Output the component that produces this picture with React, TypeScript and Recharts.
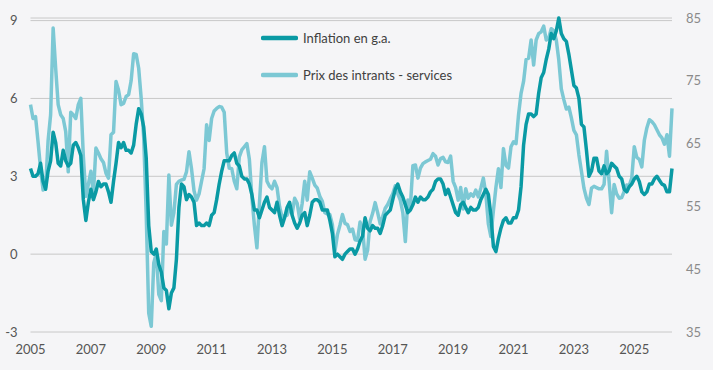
import React from 'react';
import { LineChart, Line, XAxis, YAxis, CartesianGrid, Legend } from 'recharts';

// monthly series, first point = Dec 2004
// inflation en glissement annuel (%), left axis
const inflation = [
  3.3,
  3.0, 3.0, 3.1, 3.5, 2.8, 2.5, 3.2, 3.6, 4.7, 4.3, 3.5, 3.4, // 2005
  4.0, 3.6, 3.4, 3.5, 4.2, 4.3, 4.1, 3.8, 2.1, 1.3, 2.0, 2.5, // 2006
  2.1, 2.4, 2.8, 2.6, 2.7, 2.7, 2.4, 2.0, 2.8, 3.5, 4.3, 4.1, // 2007
  4.3, 4.0, 4.0, 3.9, 4.2, 5.0, 5.6, 5.4, 4.9, 3.7, 1.1, 0.1, // 2008
  0.0, 0.2, -0.4, -0.7, -1.3, -1.4, -2.1, -1.5, -1.3, -0.2, 1.8, 2.7, // 2009
  2.6, 2.1, 2.3, 2.2, 2.0, 1.1, 1.2, 1.1, 1.1, 1.2, 1.1, 1.5, // 2010
  1.6, 2.1, 2.7, 3.2, 3.6, 3.6, 3.6, 3.8, 3.9, 3.5, 3.4, 3.0, // 2011
  2.9, 2.9, 2.7, 2.3, 1.7, 1.7, 1.4, 1.7, 2.0, 2.2, 1.8, 1.7, // 2012
  1.6, 2.0, 1.5, 1.1, 1.4, 1.8, 2.0, 1.5, 1.2, 1.0, 1.2, 1.5, // 2013
  1.6, 1.1, 1.5, 2.0, 2.1, 2.1, 2.0, 1.7, 1.7, 1.7, 1.3, 0.8, // 2014
  -0.1, 0.0, -0.1, -0.2, 0.0, 0.1, 0.2, 0.2, 0.0, 0.2, 0.5, 0.7, // 2015
  1.4, 1.0, 0.9, 1.1, 1.0, 1.0, 0.8, 1.1, 1.5, 1.6, 1.7, 2.1, // 2016
  2.5, 2.7, 2.4, 2.2, 1.9, 1.6, 1.7, 1.9, 2.2, 2.0, 2.2, 2.1, // 2017
  2.1, 2.2, 2.4, 2.5, 2.8, 2.9, 2.9, 2.7, 2.3, 2.5, 2.2, 1.9, // 2018
  1.6, 1.5, 1.9, 2.0, 1.8, 1.6, 1.8, 1.7, 1.7, 1.8, 2.1, 2.3, // 2019
  2.5, 2.3, 1.5, 0.3, 0.1, 0.6, 1.0, 1.3, 1.4, 1.2, 1.2, 1.4, // 2020
  1.4, 1.7, 2.6, 4.2, 5.0, 5.4, 5.4, 5.3, 5.4, 6.2, 6.8, 7.0, // 2021
  7.5, 7.9, 8.5, 8.3, 8.6, 9.1, 8.5, 8.3, 8.2, 7.7, 7.1, 6.5, // 2022
  6.4, 6.0, 5.0, 4.9, 4.0, 3.0, 3.2, 3.7, 3.7, 3.2, 3.1, 3.4, // 2023
  3.1, 3.2, 3.5, 3.4, 3.3, 3.0, 2.9, 2.5, 2.4, 2.6, 2.7, 2.9, // 2024
  3.0, 2.8, 2.4, 2.3, 2.4, 2.7, 2.7, 2.9, 3.0, 2.85, 2.7, 2.65, // 2025
  2.4, 2.4, 3.3, // 2026
];

// prix des intrants - services (indice), right axis
const servicesPrices = [
  71.2,
  69.0, 69.3, 65.3, 61.0, 57.6, 58.0, 65.5, 69.6, 83.4, 77.0, 71.2, 69.6, // 2005
  69.0, 66.9, 60.5, 70.0, 69.6, 69.0, 71.2, 72.2, 63.0, 56.6, 58.5, 60.6, // 2006
  57.0, 64.3, 63.5, 62.6, 62.0, 60.3, 59.5, 66.4, 66.8, 74.9, 73.5, 71.2, // 2007
  71.4, 72.5, 72.8, 75.0, 79.3, 79.2, 77.0, 72.2, 66.0, 53.7, 38.0, 35.9, // 2008
  46.0, 47.5, 41.0, 40.0, 51.0, 49.0, 60.0, 52.0, 54.0, 58.5, 59.0, 59.2, // 2009
  59.3, 60.5, 63.7, 61.0, 57.5, 56.0, 57.0, 59.0, 61.0, 68.0, 65.5, 69.0, // 2010
  70.2, 70.6, 70.9, 70.8, 70.0, 63.5, 61.1, 61.0, 59.0, 57.8, 62.9, 64.0, // 2011
  64.5, 65.0, 62.5, 56.5, 52.0, 48.4, 55.5, 62.0, 64.5, 59.0, 58.2, 57.8, // 2012
  59.0, 58.0, 55.0, 53.3, 53.5, 53.6, 54.7, 53.8, 56.3, 55.5, 53.0, 55.5, // 2013
  59.0, 56.0, 60.5, 59.5, 58.4, 57.9, 56.6, 55.8, 54.0, 53.8, 53.7, 52.1, // 2014
  47.8, 50.5, 52.0, 53.7, 52.3, 52.1, 51.0, 51.4, 49.7, 49.6, 52.5, 51.5, // 2015
  46.6, 48.0, 52.6, 53.9, 55.6, 54.0, 52.2, 53.4, 54.7, 55.3, 56.2, 57.0, // 2016
  58.3, 57.0, 56.0, 54.0, 49.4, 56.0, 55.0, 61.5, 61.6, 59.5, 61.1, 61.8, // 2017
  62.1, 62.3, 62.5, 63.4, 63.0, 61.6, 62.6, 62.8, 62.1, 62.0, 63.0, 59.0, // 2018
  58.0, 56.0, 58.0, 54.6, 57.8, 56.3, 57.0, 56.6, 57.6, 56.5, 57.9, 59.5, // 2019
  57.0, 52.2, 50.2, 54.3, 58.0, 61.0, 58.0, 64.2, 61.5, 61.1, 64.5, 65.3, // 2020
  65.0, 69.6, 73.0, 74.9, 78.4, 78.6, 81.5, 77.5, 81.5, 82.5, 82.8, 83.7, // 2021
  81.5, 81.8, 83.3, 83.0, 81.5, 78.3, 73.7, 72.0, 70.5, 70.8, 69.1, 67.1, // 2022
  66.4, 63.2, 60.6, 57.9, 56.3, 55.3, 57.9, 58.2, 58.0, 57.8, 57.8, 58.5, // 2023
  63.8, 59.0, 54.0, 58.5, 57.0, 56.3, 56.4, 57.4, 58.4, 58.3, 59.5, 64.5, // 2024
  62.8, 62.5, 61.3, 65.5, 67.5, 68.8, 68.5, 68.0, 67.2, 66.4, 65.9, 64.9, // 2025
  66.4, 63.0, 70.6, // 2026
];

const yearTicks = [2005, 2007, 2009, 2011, 2013, 2015, 2017, 2019, 2021, 2023, 2025];
const leftTicks = [-3, 0, 3, 6, 9];
const rightTicks = [35, 45, 55, 65, 75, 85];

const DARK = '#0a9aa4';
const LIGHT = '#7cc8d4';
const FONT = 'Lato, "Open Sans", sans-serif';

const legendItems = [
  { key: 'inflation', label: 'Inflation en g.a.', color: DARK },
  { key: 'services', label: 'Prix des intrants - services', color: LIGHT },
];

const data = inflation.map((v, i) => ({ m: i, inflation: v, services: servicesPrices[i] }));
const tickPos = yearTicks.map((y) => (y - yearTicks[0]) * 12);

const renderLegend = () => (
  <div style={{ fontFamily: FONT, fontSize: 13, color: '#404040' }}>
    {legendItems.map((item) => (
      <div key={item.key} style={{ display: 'flex', alignItems: 'center', height: 20, marginBottom: 16.4 }}>
        <svg width={37} height={8}>
          <line x1={2} y1={4} x2={35} y2={4} stroke={item.color} strokeWidth={4.5} strokeLinecap="round" />
        </svg>
        <span style={{ marginLeft: 5 }}>{item.label}</span>
      </div>
    ))}
  </div>
);

export default function App() {
  return (
    <div style={{ position: 'absolute', left: 0, top: 0, width: 713, height: 370, background: '#f5f5f7' }}>
      <LineChart width={713} height={370} data={data} margin={{ top: 18, right: 0, bottom: 8, left: 0.5 }}>
        <CartesianGrid yAxisId="left" vertical={false} stroke="#c8c8c8" strokeWidth={1} />
        <XAxis
          dataKey="m"
          type="number"
          domain={[0, data.length - 1]}
          ticks={tickPos}
          tickFormatter={(m) => String(yearTicks[0] + m / 12)}
          axisLine={false}
          tickLine={false}
          tickSize={0}
          tickMargin={13}
          height={30}
          tick={{ fill: '#555555', fontSize: 13, fontFamily: FONT }}
        />
        <YAxis
          yAxisId="left"
          domain={[-3, 9]}
          ticks={leftTicks}
          axisLine={false}
          tickLine={false}
          tickSize={0}
          tickMargin={13}
          width={30}
          tick={{ fill: '#555555', fontSize: 13, fontFamily: FONT }}
        />
        <YAxis
          yAxisId="right"
          orientation="right"
          domain={[35, 85]}
          ticks={rightTicks}
          axisLine={false}
          tickLine={false}
          tickSize={0}
          tickMargin={14}
          width={41}
          tick={{ fill: '#8a8a8a', fontSize: 13, fontFamily: FONT }}
        />
        <Legend
          layout="vertical"
          align="center"
          verticalAlign="middle"
          content={renderLegend}
          wrapperStyle={{ top: 28.3, left: 261, width: 220 }}
        />
        <Line
          yAxisId="right"
          type="linear"
          dataKey="services"
          stroke={LIGHT}
          strokeWidth={3.5}
          dot={false}
          strokeLinejoin="round"
          isAnimationActive={false}
        />
        <Line
          yAxisId="left"
          type="linear"
          dataKey="inflation"
          stroke={DARK}
          strokeWidth={3.5}
          dot={false}
          strokeLinejoin="round"
          isAnimationActive={false}
        />
      </LineChart>
    </div>
  );
}
